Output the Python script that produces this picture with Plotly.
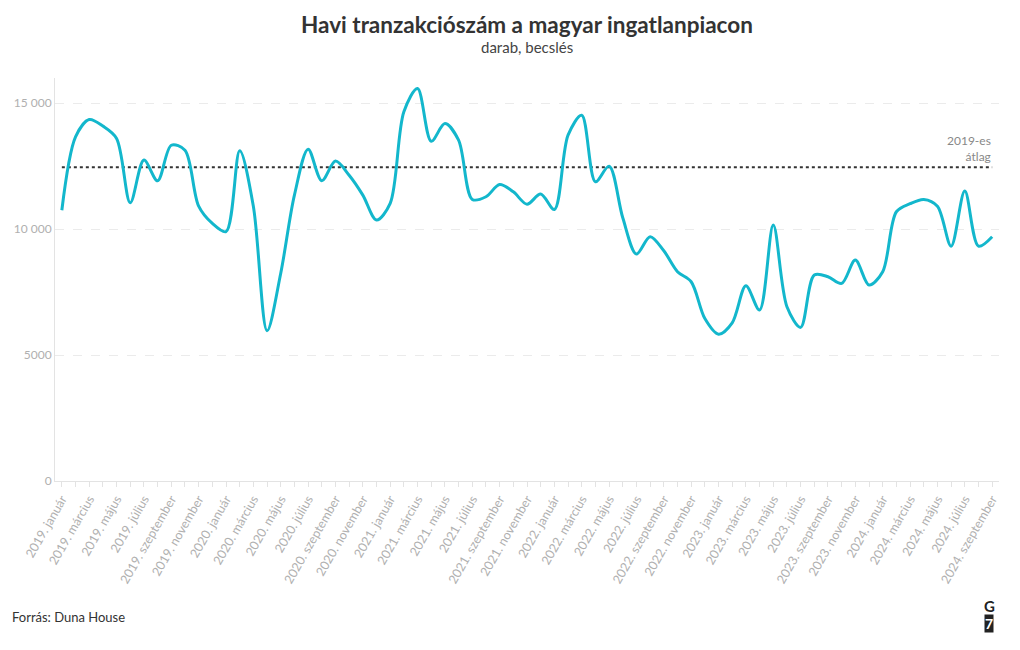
import plotly.graph_objects as go

month_names = ["január", "február", "március", "április", "május", "június",
               "július", "augusztus", "szeptember", "október", "november", "december"]
years = [2019, 2020, 2021, 2022, 2023, 2024]
months = [f"{y}. {m}" for y in years for m in month_names][:69]

transactions = [
    10750, 13660, 14350, 14090, 13600, 11045, 12740, 11920, 13330, 13135, 10910, 10225,  # 2019
    9900, 13110, 10900, 5965, 8250, 11350, 13175, 11920, 12700, 12140, 11350, 10360,      # 2020
    11020, 14660, 15580, 13490, 14190, 13530, 11180, 11285, 11770, 11480, 10990, 11390,   # 2021
    10780, 13730, 14520, 11880, 12500, 10450, 9010, 9700, 9140, 8310, 7910, 6450,         # 2022
    5830, 6280, 7750, 6785, 10160, 6920, 6100, 8175, 8110, 7845, 8770, 7780,              # 2023
    8310, 10690, 11010, 11180, 10910, 9325, 11510, 9325, 9700,                            # 2024
]

avg_2019 = 12460

y_tickvals = [0, 5000, 10000, 15000]
y_ticktext = ["0", "5000", "10 000", "15 000"]

x_ticktext = [m if i % 2 == 0 else "" for i, m in enumerate(months)]

FONT = "Lato"

fig = go.Figure()
fig.add_trace(go.Scatter(
    x=months, y=[avg_2019] * len(months), mode="lines",
    line=dict(color="#333333", width=2, dash="dot"),
    hoverinfo="skip", showlegend=False,
))
fig.add_trace(go.Scatter(
    x=months, y=transactions, mode="lines",
    line=dict(color="#13b7cc", width=3, shape="spline", smoothing=0.9),
    showlegend=False,
))

fig.update_layout(
    width=1020, height=650,
    margin=dict(l=55, r=21, t=78, b=169),
    paper_bgcolor="white", plot_bgcolor="white",
    font=dict(family=FONT, color="#aaaaaa", size=12),
    xaxis=dict(
        type="category", range=[-0.5, 68.5],
        tickmode="array", tickvals=months, ticktext=x_ticktext,
        tickangle=-60, ticks="outside", ticklen=5, tickcolor="#e3e3e3",
        showline=True, linecolor="#e3e3e3", linewidth=1,
        showgrid=False, zeroline=False,
        tickfont=dict(size=12.5, color="#b0b0b0"),
    ),
    yaxis=dict(
        range=[0, 16000],
        tickmode="array", tickvals=y_tickvals, ticktext=y_ticktext,
        showline=True, linecolor="#e3e3e3", linewidth=1,
        showgrid=True, gridcolor="#ebebeb", griddash="dash", gridwidth=1,
        zeroline=False, ticks="", ticklen=0,
        tickfont=dict(size=12, color="#b0b0b0"),
    ),
)

# title and subtitle
fig.add_annotation(
    x=0.5, xref="paper", xanchor="center",
    y=1, yref="paper", yanchor="middle", yshift=54,
    text="<b>Havi tranzakciószám a magyar ingatlanpiacon</b>", showarrow=False,
    font=dict(family=FONT, size=22.5, color="#333333"),
)
fig.add_annotation(
    x=0.5, xref="paper", xanchor="center",
    y=1, yref="paper", yanchor="middle", yshift=31,
    text="darab, becslés", showarrow=False,
    font=dict(family=FONT, size=15, color="#444444"),
)

fig.add_annotation(
    x=1.0, xref="paper", y=avg_2019, yref="y",
    text="2019-es<br>átlag", showarrow=False,
    xanchor="right", yanchor="bottom", align="right", xshift=-6, yshift=1,
    font=dict(family=FONT, size=12, color="#888888"),
)
fig.add_annotation(
    x=0, xref="paper", xanchor="left", xshift=-45,
    y=0, yref="paper", yanchor="middle", yshift=-136,
    text="Forrás: Duna House", showarrow=False,
    font=dict(family=FONT, size=13, color="#333333"),
)
fig.add_annotation(
    x=1, xref="paper", xanchor="center", xshift=-10,
    y=0, yref="paper", yanchor="middle", yshift=-125,
    text="<b>G</b>", showarrow=False,
    font=dict(family=FONT, size=15, color="#222222"),
)
fig.add_annotation(
    x=1, xref="paper", xanchor="center", xshift=-10,
    y=0, yref="paper", yanchor="middle", yshift=-142,
    text="<b>7</b>", showarrow=False, bgcolor="#222222", borderpad=0,
    font=dict(family=FONT, size=14, color="white"),
)

fig.write_html("out.html", config={"displayModeBar": False},
               post_script="document.body.style.margin='0';")
